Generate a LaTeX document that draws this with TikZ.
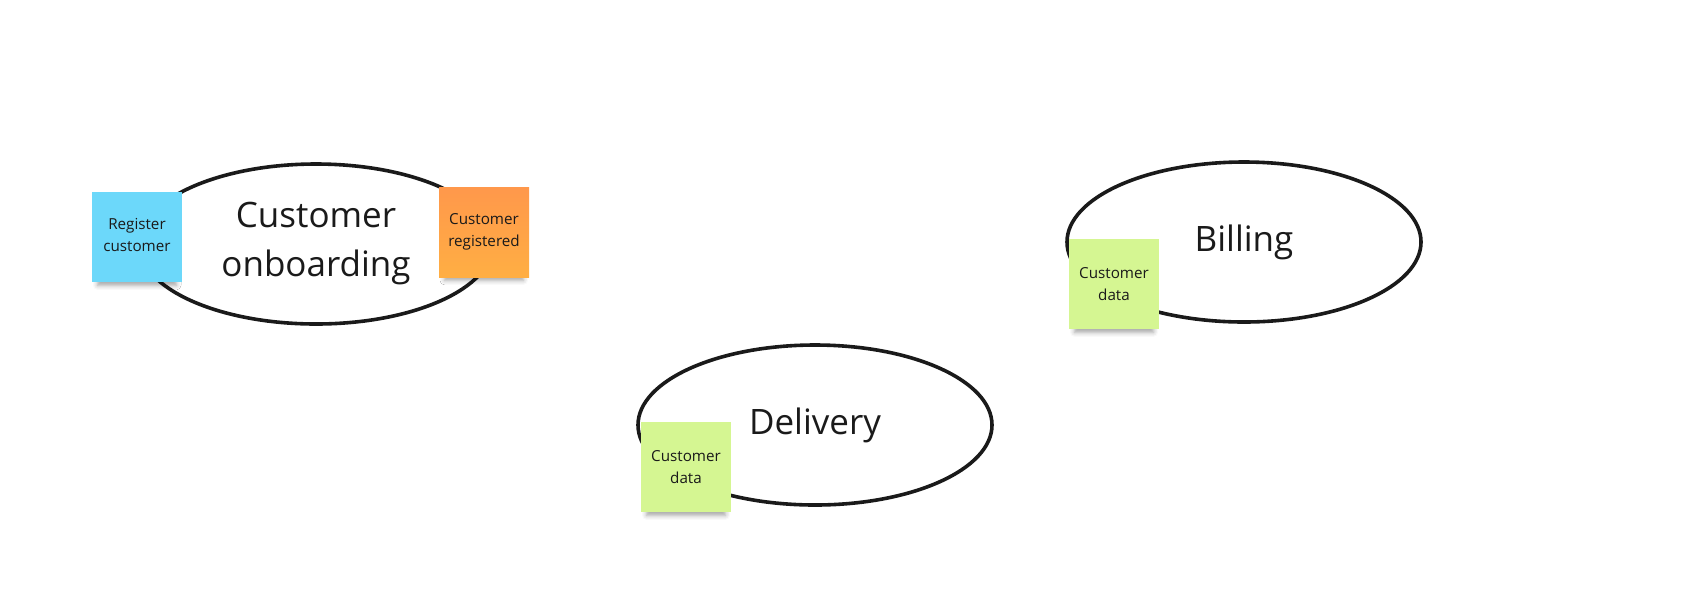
\documentclass[tikz,border=0pt]{standalone}
\usepackage{fontspec}
\setmainfont{Open Sans}
\usetikzlibrary{shapes.geometric,shadows.blur}
\definecolor{stickyblue}{HTML}{6CD8FA}
\definecolor{stickyorange}{HTML}{FFA04F}
\definecolor{stickygreen}{HTML}{D5F692}
\definecolor{ink}{HTML}{1A1A1A}
\tikzset{
  context/.style={ellipse,draw=ink,line width=1.8pt,fill=white,minimum width=177pt,minimum height=80pt,
    font=\fontsize{17.5}{24.5}\selectfont,text=ink,align=center},
  sticky/.style={minimum width=45pt,minimum height=45pt,inner sep=0pt,
    font=\fontsize{7.6}{11.3}\selectfont,text=ink,align=center,
    blur shadow={shadow xshift=0pt,shadow yshift=-5pt,shadow scale=0.88,shadow blur radius=2.5pt,shadow opacity=35}}
}
\begin{document}
\begin{tikzpicture}[x=0.5pt,y=-0.5pt]
\useasboundingbox (0,0) rectangle (1691,591);
% bounded contexts
\node[context] (onboarding) at (316,244) {Customer\\onboarding};
\node[context] (delivery) at (815,425) {Delivery};
\node[context] (billing) at (1244,242) {Billing};
% stickies
\node[sticky,fill=stickyblue,text depth=2pt] (register) at (137,237) {Register\\customer};
\node[sticky,top color=stickyorange!95!red,bottom color=stickyorange!85!yellow] (registered) at (484,232) {Customer\\registered};
\foreach \n/\x/\y in {deliverydata/686/467, billingdata/1114/284} % edit here for the data stickies
\node[sticky,fill=stickygreen] (\n) at (\x,\y) {Customer\\data};
\end{tikzpicture}
\end{document}
